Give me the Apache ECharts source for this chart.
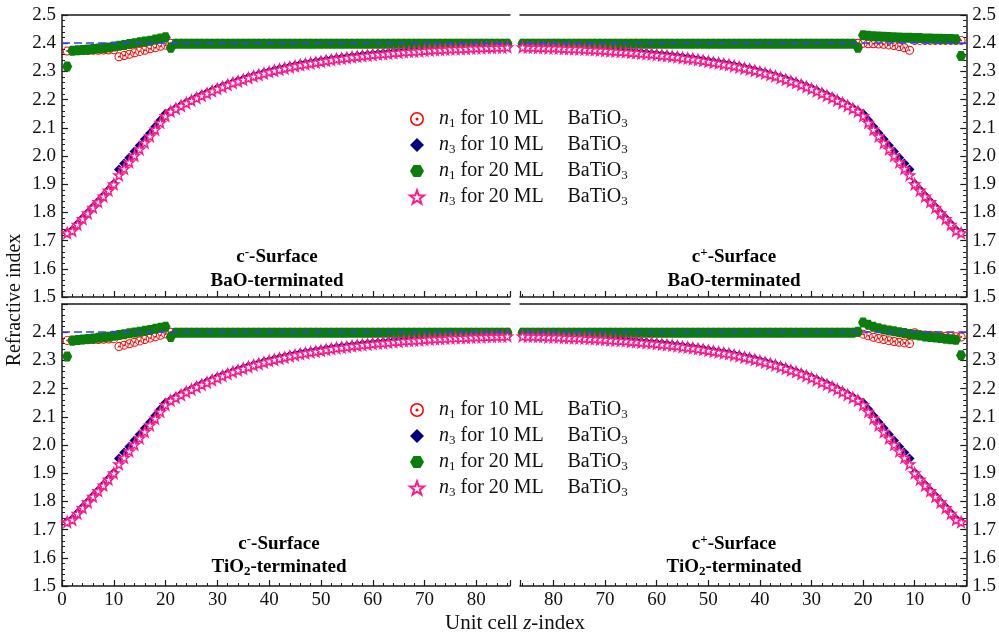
<!DOCTYPE html>
<html><head><meta charset="utf-8">
<script src="https://cdn.jsdelivr.net/npm/echarts@6/dist/echarts.min.js"></script>
<style>html,body{margin:0;padding:0;background:#fff}#c{width:999px;height:639px}</style>
</head><body><div id="c"></div>
<script>
// ---------------- DATA ----------------
const zIndex = Array.from({length: 86}, (_, i) => i + 1); // unit cell z-index 1..86
const refIndex = 2.40;           // dashed reference (bulk) value
const xTicks = [0,10,20,30,40,50,60,70,80];
const yTicks = [1.5,1.6,1.7,1.8,1.9,2.0,2.1,2.2,2.3,2.4,2.5];

// n3 for 20 ML (same profile in all panels)
const n3_20 = [
1.727,1.735,1.757,1.777,1.797,1.817,1.837,1.857,1.878,1.900,
1.932,1.955,1.978,2.001,2.024,2.047,2.070,2.094,2.118,2.142,
2.158,2.168,2.178,2.188,2.197,2.206,2.214,2.222,2.230,2.238,
2.245,2.252,2.259,2.265,2.271,2.277,2.283,2.288,2.293,2.298,
2.303,2.307,2.311,2.315,2.319,2.323,2.326,2.329,2.332,2.335,
2.338,2.341,2.344,2.346,2.348,2.351,2.353,2.355,2.357,2.359,
2.361,2.362,2.364,2.366,2.367,2.369,2.370,2.371,2.372,2.374,
2.375,2.376,2.377,2.378,2.379,2.380,2.380,2.381,2.382,2.383,
2.383,2.384,2.384,2.385,2.385,2.386];
// n3 for 10 ML
const n3_10 = [
1.729,1.738,1.759,1.779,1.799,1.819,1.839,1.859,1.880,1.902,
1.952,1.973,1.994,2.016,2.037,2.059,2.081,2.104,2.127,2.150,
2.160,2.170,2.180,2.190,2.199,2.208,2.216,2.224,2.232,2.240,
2.247,2.254,2.261,2.267,2.273,2.279,2.285,2.290,2.295,2.300,
2.305,2.309,2.313,2.317,2.321,2.325,2.328,2.331,2.334,2.337,
2.340,2.343,2.346,2.348,2.350,2.353,2.355,2.357,2.359,2.361,
2.363,2.364,2.366,2.368,2.369,2.371,2.372,2.373,2.374,2.376,
2.377,2.378,2.379,2.380,2.381,2.382,2.382,2.383,2.384,2.385,
2.385,2.386,2.386,2.387,2.387,2.388];

// c- surface, BaO-terminated
const n1_20_BaO_m = [
2.317,2.373,2.375,2.376,2.378,2.379,2.381,2.383,2.385,2.388,
2.391,2.394,2.397,2.400,2.403,2.406,2.409,2.413,2.417,2.421,
2.384,2.398,2.398,2.398,2.398,2.398,2.398,2.398,2.398,2.398,
2.398,2.398,2.398,2.398,2.398,2.398,2.398,2.398,2.398,2.398,
2.398,2.398,2.398,2.398,2.398,2.398,2.398,2.398,2.398,2.398,
2.398,2.398,2.398,2.398,2.398,2.398,2.398,2.398,2.398,2.398,
2.398,2.398,2.398,2.398,2.398,2.398,2.398,2.398,2.398,2.398,
2.398,2.398,2.398,2.398,2.398,2.398,2.398,2.398,2.398,2.398,
2.398,2.398,2.398,2.398,2.398,2.398];
const n1_10_BaO_m = [
2.372,2.373,2.373,2.374,2.374,2.375,2.375,2.376,2.376,2.377,
2.352,2.356,2.361,2.366,2.371,2.375,2.380,2.384,2.389,2.393,
2.400,2.400,2.400,2.400,2.400,2.400,2.400,2.400,2.400,2.400,
2.400,2.400,2.400,2.400,2.400,2.400,2.400,2.400,2.400,2.400,
2.400,2.400,2.400,2.400,2.400,2.400,2.400,2.400,2.400,2.400,
2.400,2.400,2.400,2.400,2.400,2.400,2.400,2.400,2.400,2.400,
2.400,2.400,2.400,2.400,2.400,2.400,2.400,2.400,2.400,2.400,
2.400,2.400,2.400,2.400,2.400,2.400,2.400,2.400,2.400,2.400,
2.400,2.400,2.400,2.400,2.400,2.400];
// c+ surface, BaO-terminated
const n1_20_BaO_p = [
2.355,2.414,2.415,2.415,2.416,2.416,2.417,2.417,2.418,2.418,
2.419,2.419,2.420,2.421,2.422,2.423,2.424,2.425,2.426,2.428,
2.384,2.398,2.398,2.398,2.398,2.398,2.398,2.398,2.398,2.398,
2.398,2.398,2.398,2.398,2.398,2.398,2.398,2.398,2.398,2.398,
2.398,2.398,2.398,2.398,2.398,2.398,2.398,2.398,2.398,2.398,
2.398,2.398,2.398,2.398,2.398,2.398,2.398,2.398,2.398,2.398,
2.398,2.398,2.398,2.398,2.398,2.398,2.398,2.398,2.398,2.398,
2.398,2.398,2.398,2.398,2.398,2.398,2.398,2.398,2.398,2.398,
2.398,2.398,2.398,2.398,2.398,2.398];
const n1_10_BaO_p = [
2.410,2.410,2.410,2.410,2.410,2.410,2.410,2.410,2.410,2.410,
2.375,2.384,2.388,2.392,2.394,2.396,2.397,2.398,2.398,2.400,
2.400,2.400,2.400,2.400,2.400,2.400,2.400,2.400,2.400,2.400,
2.400,2.400,2.400,2.400,2.400,2.400,2.400,2.400,2.400,2.400,
2.400,2.400,2.400,2.400,2.400,2.400,2.400,2.400,2.400,2.400,
2.400,2.400,2.400,2.400,2.400,2.400,2.400,2.400,2.400,2.400,
2.400,2.400,2.400,2.400,2.400,2.400,2.400,2.400,2.400,2.400,
2.400,2.400,2.400,2.400,2.400,2.400,2.400,2.400,2.400,2.400,
2.400,2.400,2.400,2.400,2.400,2.400];
// c- surface, TiO2-terminated
const n1_20_TiO2_m = [
2.314,2.370,2.372,2.374,2.376,2.378,2.380,2.382,2.384,2.387,
2.390,2.393,2.396,2.399,2.402,2.405,2.408,2.412,2.416,2.419,
2.383,2.398,2.398,2.398,2.398,2.398,2.398,2.398,2.398,2.398,
2.398,2.398,2.398,2.398,2.398,2.398,2.398,2.398,2.398,2.398,
2.398,2.398,2.398,2.398,2.398,2.398,2.398,2.398,2.398,2.398,
2.398,2.398,2.398,2.398,2.398,2.398,2.398,2.398,2.398,2.398,
2.398,2.398,2.398,2.398,2.398,2.398,2.398,2.398,2.398,2.398,
2.398,2.398,2.398,2.398,2.398,2.398,2.398,2.398,2.398,2.398,
2.398,2.398,2.398,2.398,2.398,2.398];
const n1_10_TiO2_m = [
2.371,2.372,2.372,2.373,2.373,2.374,2.374,2.375,2.376,2.377,
2.349,2.354,2.359,2.364,2.369,2.374,2.379,2.384,2.389,2.394,
2.400,2.400,2.400,2.400,2.400,2.400,2.400,2.400,2.400,2.400,
2.400,2.400,2.400,2.400,2.400,2.400,2.400,2.400,2.400,2.400,
2.400,2.400,2.400,2.400,2.400,2.400,2.400,2.400,2.400,2.400,
2.400,2.400,2.400,2.400,2.400,2.400,2.400,2.400,2.400,2.400,
2.400,2.400,2.400,2.400,2.400,2.400,2.400,2.400,2.400,2.400,
2.400,2.400,2.400,2.400,2.400,2.400,2.400,2.400,2.400,2.400,
2.400,2.400,2.400,2.400,2.400,2.400];
// c+ surface, TiO2-terminated
const n1_20_TiO2_p = [
2.318,2.373,2.375,2.377,2.379,2.381,2.383,2.385,2.388,2.391,
2.394,2.397,2.400,2.403,2.406,2.410,2.414,2.419,2.426,2.434,
2.402,2.398,2.398,2.398,2.398,2.398,2.398,2.398,2.398,2.398,
2.398,2.398,2.398,2.398,2.398,2.398,2.398,2.398,2.398,2.398,
2.398,2.398,2.398,2.398,2.398,2.398,2.398,2.398,2.398,2.398,
2.398,2.398,2.398,2.398,2.398,2.398,2.398,2.398,2.398,2.398,
2.398,2.398,2.398,2.398,2.398,2.398,2.398,2.398,2.398,2.398,
2.398,2.398,2.398,2.398,2.398,2.398,2.398,2.398,2.398,2.398,
2.398,2.398,2.398,2.398,2.398,2.398];
const n1_10_TiO2_p = [
2.383,2.384,2.385,2.386,2.387,2.388,2.389,2.390,2.391,2.398,
2.360,2.362,2.364,2.367,2.370,2.374,2.378,2.382,2.387,2.393,
2.400,2.400,2.400,2.400,2.400,2.400,2.400,2.400,2.400,2.400,
2.400,2.400,2.400,2.400,2.400,2.400,2.400,2.400,2.400,2.400,
2.400,2.400,2.400,2.400,2.400,2.400,2.400,2.400,2.400,2.400,
2.400,2.400,2.400,2.400,2.400,2.400,2.400,2.400,2.400,2.400,
2.400,2.400,2.400,2.400,2.400,2.400,2.400,2.400,2.400,2.400,
2.400,2.400,2.400,2.400,2.400,2.400,2.400,2.400,2.400,2.400,
2.400,2.400,2.400,2.400,2.400,2.400];

const seriesNames = ['n1_10', 'n3_10', 'n1_20', 'n3_20'];
const legendSubs  = ['1', '3', '1', '3'];
const legendTexts = [' for 10 ML', ' for 10 ML', ' for 20 ML', ' for 20 ML'];
const panelSurface = ['-', '+', '-', '+'];
const panelTerm = [['BaO', ''], ['BaO', ''], ['TiO', '2'], ['TiO', '2']];

// ---------------- STYLE / LAYOUT ----------------
const serif = 'Liberation Serif';
const ink = '#111';
const xMax = 86.5;
const ringPath = 'path://M10,0 A10,10 0 1,1 -10,0 A10,10 0 1,1 10,0 Z M7.8,0 A7.8,7.8 0 1,0 -7.8,0 A7.8,7.8 0 1,0 7.8,0 Z M2.2,0 A2.2,2.2 0 1,1 -2.2,0 A2.2,2.2 0 1,1 2.2,0 Z';
const hexPath = 'path://M-10,0 L-5,-8.66 L5,-8.66 L10,0 L5,8.66 L-5,8.66 Z';
const starPath = 'path://M0,-10 L2.351,-3.236 L9.511,-3.09 L3.804,1.236 L5.878,8.09 L0,4 L-5.878,8.09 L-3.804,1.236 L-9.511,-3.09 L-2.351,-3.236 Z';

const panels = [
  {grid: {left: 62,  top: 15,  width: 448, height: 282}, inverse: false, side: 'left',  top: true,  n1_10: n1_10_BaO_m,  n1_20: n1_20_BaO_m,  tx: 277, ty: 257},
  {grid: {left: 520, top: 15,  width: 447, height: 282}, inverse: true,  side: 'right', top: true,  n1_10: n1_10_BaO_p,  n1_20: n1_20_BaO_p,  tx: 734, ty: 257},
  {grid: {left: 62,  top: 304, width: 448, height: 282}, inverse: false, side: 'left',  top: false, n1_10: n1_10_TiO2_m, n1_20: n1_20_TiO2_m, tx: 279, ty: 544},
  {grid: {left: 520, top: 304, width: 447, height: 282}, inverse: true,  side: 'right', top: false, n1_10: n1_10_TiO2_p, n1_20: n1_20_TiO2_p, tx: 734, ty: 544}
];

const axisLineStyle = {color: '#1a1a1a', width: 1.5};
const grids = [], xAxes = [], yAxes = [], series = [], graphics = [];
const toPts = vals => vals.map((v, i) => [zIndex[i], v]);

panels.forEach((p, g) => {
  grids.push(Object.assign({containLabel: false}, p.grid));
  xAxes.push({
    gridIndex: g, type: 'value', min: 0, max: xMax, interval: 10, inverse: p.inverse, position: 'bottom',
    axisLine: {show: true, onZero: false, lineStyle: axisLineStyle},
    axisTick: {show: true, inside: true, length: 6, lineStyle: {color: '#1a1a1a', width: 1.2}},
    minorTick: {show: true, splitNumber: 5, length: 3, lineStyle: {color: '#1a1a1a', width: 1}},
    axisLabel: {show: !p.top, margin: 5, fontFamily: serif, fontSize: 19, color: ink,
      formatter: v => (xTicks.indexOf(Math.round(v * 1000) / 1000) >= 0 ? String(v) : '')},
    splitLine: {show: false}, minorSplitLine: {show: false}
  });
  xAxes.push({
    gridIndex: g, type: 'value', min: 0, max: xMax, inverse: p.inverse, position: 'top',
    axisLine: {show: true, onZero: false, lineStyle: axisLineStyle},
    axisTick: {show: false}, axisLabel: {show: false}, splitLine: {show: false}
  });
  yAxes.push({
    gridIndex: g, type: 'value', min: 1.5, max: 2.5, interval: 0.1, position: p.side,
    axisLine: {show: true, onZero: false, lineStyle: axisLineStyle},
    axisTick: {show: true, inside: true, length: 6, lineStyle: {color: '#1a1a1a', width: 1.2}},
    minorTick: {show: true, splitNumber: 5, length: 3, lineStyle: {color: '#1a1a1a', width: 1}},
    axisLabel: {margin: 6, fontFamily: serif, fontSize: 19, color: ink, showMaxLabel: p.top,
      formatter: v => {
        const r = Math.round(v * 10) / 10;
        return yTicks.indexOf(r) >= 0 ? r.toFixed(1) : '';
      }},
    splitLine: {show: false}, minorSplitLine: {show: false}
  });
  const xi = 2 * g, yi = g;
  series.push({type: 'scatter', name: 'n1_10', xAxisIndex: xi, yAxisIndex: yi, symbol: ringPath, symbolSize: 9,
    itemStyle: {color: '#ff0000', opacity: 1}, data: toPts(p.n1_10), z: 2, silent: true});
  series.push({type: 'scatter', name: 'n3_10', xAxisIndex: xi, yAxisIndex: yi, symbol: 'diamond', symbolSize: 10,
    itemStyle: {color: '#000080', opacity: 1}, data: toPts(n3_10), z: 2, silent: true});
  series.push({type: 'scatter', name: 'n1_20', xAxisIndex: xi, yAxisIndex: yi, symbol: hexPath, symbolSize: 10,
    itemStyle: {color: '#0a7d0a', opacity: 1}, data: toPts(p.n1_20), z: 2, silent: true});
  series.push({type: 'scatter', name: 'n3_20', xAxisIndex: xi, yAxisIndex: yi, symbol: starPath, symbolSize: 10,
    itemStyle: {color: '#ffffff', borderColor: '#ff1a8c', borderWidth: 1.5, opacity: 1}, data: toPts(n3_20), z: 2, silent: true});
  series.push({type: 'line', name: 'ref' + g, xAxisIndex: xi, yAxisIndex: yi, data: [], z: 5, silent: true,
    markLine: {silent: true, symbol: 'none', label: {show: false},
      lineStyle: {color: '#3b3bff', width: 1.5, type: [8, 4], opacity: 1},
      data: [{yAxis: refIndex}]}});

  // panel annotations
  const supStyle = {fontFamily: serif, fontWeight: 'bold', fontSize: 13, lineHeight: 10, verticalAlign: 'top', fill: '#000'};
  const mStyle = {fontFamily: serif, fontWeight: 'bold', fontSize: 19, lineHeight: 22, fill: '#000'};
  const subStyle = {fontFamily: serif, fontWeight: 'bold', fontSize: 13, lineHeight: 10, verticalAlign: 'bottom', fill: '#000'};
  graphics.push({type: 'text', x: p.tx, y: p.ty, silent: true,
    style: {text: '{m|c}{p|' + panelSurface[g] + '}{m|-Surface}', align: 'center', verticalAlign: 'middle',
      rich: {m: mStyle, p: supStyle}}});
  const term = panelTerm[g];
  graphics.push({type: 'text', x: p.tx, y: p.ty + (p.top ? 24 : 23), silent: true,
    style: {text: '{m|' + term[0] + '}' + (term[1] ? '{s|' + term[1] + '}' : '') + '{m|-terminated}', align: 'center', verticalAlign: 'middle',
      rich: {m: mStyle, s: subStyle}}});
});

// axis titles
graphics.push({type: 'text', x: 15, y: 300, rotation: Math.PI / 2, silent: true,
  style: {text: 'Refractive index', fontFamily: serif, fontSize: 20, fill: ink, align: 'center', verticalAlign: 'middle'}});
graphics.push({type: 'text', x: 515, y: 623, silent: true,
  style: {text: '{t|Unit cell }{i|z}{t|-index}', align: 'center', verticalAlign: 'middle',
    rich: {t: {fontFamily: serif, fontSize: 21, fill: ink}, i: {fontFamily: serif, fontSize: 21, fontStyle: 'italic', fill: ink}}}});

// legends
const legendRich = {
  n: {fontFamily: serif, fontSize: 20, fontStyle: 'italic', lineHeight: 22, padding: [0, 0, 0, 10], color: ink},
  s: {fontFamily: serif, fontSize: 13, lineHeight: 10, verticalAlign: 'bottom', color: ink},
  a: {fontFamily: serif, fontSize: 20, lineHeight: 22, width: 112, color: ink},
  b: {fontFamily: serif, fontSize: 20, lineHeight: 22, color: ink}
};
const legendFormatter = name => {
  const k = seriesNames.indexOf(name);
  return '{n|n}{s|' + legendSubs[k] + '}{a|' + legendTexts[k] + '}{b|BaTiO}{s|3}';
};
const mkLegend = top => ({
  data: seriesNames.slice(), orient: 'vertical', left: 404, top: top, itemWidth: 14, itemHeight: 14, itemGap: 5,
  selectedMode: false, formatter: legendFormatter, textStyle: {rich: legendRich, fontFamily: serif, fontSize: 20, color: ink}
});

const chart = echarts.init(document.getElementById('c'), null, {renderer: 'canvas'});
chart.setOption({
  backgroundColor: '#fff',
  animation: false,
  grid: grids, xAxis: xAxes, yAxis: yAxes,
  legend: [mkLegend(104), mkLegend(395)],
  series: series,
  graphic: graphics
});
</script></body></html>
